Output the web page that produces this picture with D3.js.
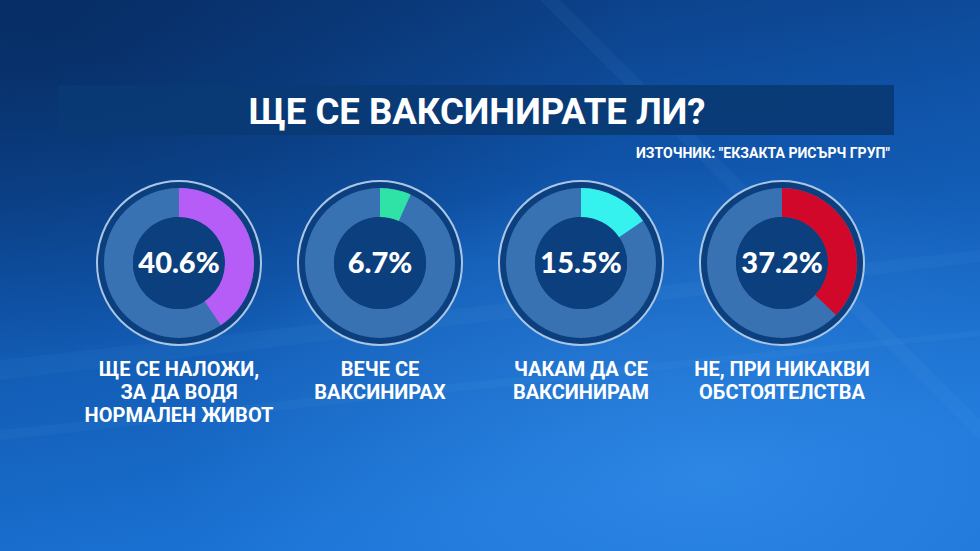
<!DOCTYPE html>
<html><head><meta charset="utf-8">
<script src="https://cdn.jsdelivr.net/npm/d3@7"></script>
<style>html,body{margin:0;padding:0;background:#0b3a78;overflow:hidden}</style>
</head><body>
<svg id="c" width="980" height="551"></svg>
<script>
const title = "ЩЕ СЕ ВАКСИНИРАТЕ ЛИ?";
const source = "ИЗТОЧНИК: \"ЕКЗАКТА РИСЪРЧ ГРУП\"";
const categories = [
  ["ЩЕ СЕ НАЛОЖИ,", "ЗА ДА ВОДЯ", "НОРМАЛЕН ЖИВОТ"],
  ["ВЕЧЕ СЕ", "ВАКСИНИРАХ"],
  ["ЧАКАМ ДА СЕ", "ВАКСИНИРАМ"],
  ["НЕ, ПРИ НИКАКВИ", "ОБСТОЯТЕЛСТВА"]
];
const values = [40.6, 6.7, 15.5, 37.2];
const colors = ["#b65cf7", "#2fe3a6", "#35f2ee", "#d2082b"];

const W = 980, H = 551;
const svg = d3.select("#c");
const defs = svg.append("defs");

// background
const bg = defs.append("linearGradient").attr("id","bg").attr("x1","0").attr("y1","0").attr("x2","0.35").attr("y2","1");
bg.append("stop").attr("offset","0").attr("stop-color","#0a3574");
bg.append("stop").attr("offset","0.45").attr("stop-color","#0f53a8");
bg.append("stop").attr("offset","1").attr("stop-color","#1b74d6");
svg.append("rect").attr("width",W).attr("height",H).attr("fill","url(#bg)");
const rg = defs.append("radialGradient").attr("id","glow").attr("cx","0.72").attr("cy","0.85").attr("r","0.55");
rg.append("stop").attr("offset","0").attr("stop-color","#3b95f0").attr("stop-opacity",0.55);
rg.append("stop").attr("offset","1").attr("stop-color","#3b95f0").attr("stop-opacity",0);
svg.append("rect").attr("width",W).attr("height",H).attr("fill","url(#glow)");
const rg2 = defs.append("radialGradient").attr("id","dark").attr("cx","0.05").attr("cy","0.05").attr("r","0.6");
rg2.append("stop").attr("offset","0").attr("stop-color","#062a5e").attr("stop-opacity",0.7);
rg2.append("stop").attr("offset","1").attr("stop-color","#062a5e").attr("stop-opacity",0);
svg.append("rect").attr("width",W).attr("height",H).attr("fill","url(#dark)");
// light streaks
const streaks = [
  "M0,360 L980,250 L980,262 L0,380 Z",
  "M0,430 L980,330 L980,336 L0,440 Z",
  "M560,0 L980,420 L980,440 L540,0 Z"
];
svg.selectAll("path.streak").data(streaks).join("path").attr("class","streak")
  .attr("d",d=>d).attr("fill","#7fbaf5").attr("opacity",0.06);

// title banner
svg.append("rect").attr("x",58).attr("y",85).attr("width",836).attr("height",50).attr("fill","#0a3a75").attr("opacity",0.95);
svg.append("text").attr("x",477).attr("y",124).attr("text-anchor","middle")
  .attr("font-family","Roboto, 'Liberation Sans', sans-serif").attr("font-weight","700")
  .attr("font-size",36).attr("fill","#fff")
  .attr("textLength",457).attr("lengthAdjust","spacingAndGlyphs").text(title);
svg.append("text").attr("x",890).attr("y",158).attr("text-anchor","end")
  .attr("font-family","Roboto, 'Liberation Sans', sans-serif").attr("font-weight","700")
  .attr("font-size",15).attr("fill","#fff")
  .attr("textLength",254).attr("lengthAdjust","spacingAndGlyphs").text(source);

// donuts
const x = d3.scalePoint().domain(d3.range(values.length)).range([179, 782]);
const cy = 263;
const angle = d3.scaleLinear().domain([0,100]).range([0, 2*Math.PI]);
const arcTrack = d3.arc().innerRadius(46).outerRadius(75).startAngle(0).endAngle(2*Math.PI);
const arcVal = d3.arc().innerRadius(46).outerRadius(75).startAngle(0);

const g = svg.selectAll("g.donut").data(values).join("g").attr("class","donut")
  .attr("transform",(d,i)=>`translate(${x(i)},${cy})`);
g.append("circle").attr("r",82).attr("fill","#0c3f7e").attr("stroke","#a9c6e6").attr("stroke-width",2);
g.append("path").attr("d",arcTrack()).attr("fill","#3872b3");
g.append("circle").attr("r",46).attr("fill","#0c3f7e");
g.append("path").attr("d",d=>arcVal.endAngle(angle(d))()).attr("fill",(d,i)=>colors[i]);
g.append("text").attr("y",10).attr("text-anchor","middle")
  .attr("font-family","Lato, 'DejaVu Sans', sans-serif").attr("font-weight","900")
  .attr("font-size",29).attr("fill","#fff").text(d=>d.toFixed(1)+"%");

// labels
const lg = svg.selectAll("text.cat").data(categories).join("text").attr("class","cat")
  .attr("text-anchor","middle").attr("font-family","Roboto, 'Open Sans', sans-serif")
  .attr("font-weight","700").attr("font-size",20).attr("fill","#fff");
lg.selectAll("tspan").data((d,i)=>d.map(t=>({t,i}))).join("tspan")
  .attr("x",d=>x(d.i)).attr("y",(d,j)=>376+j*23).text(d=>d.t);
</script>
</body></html>
